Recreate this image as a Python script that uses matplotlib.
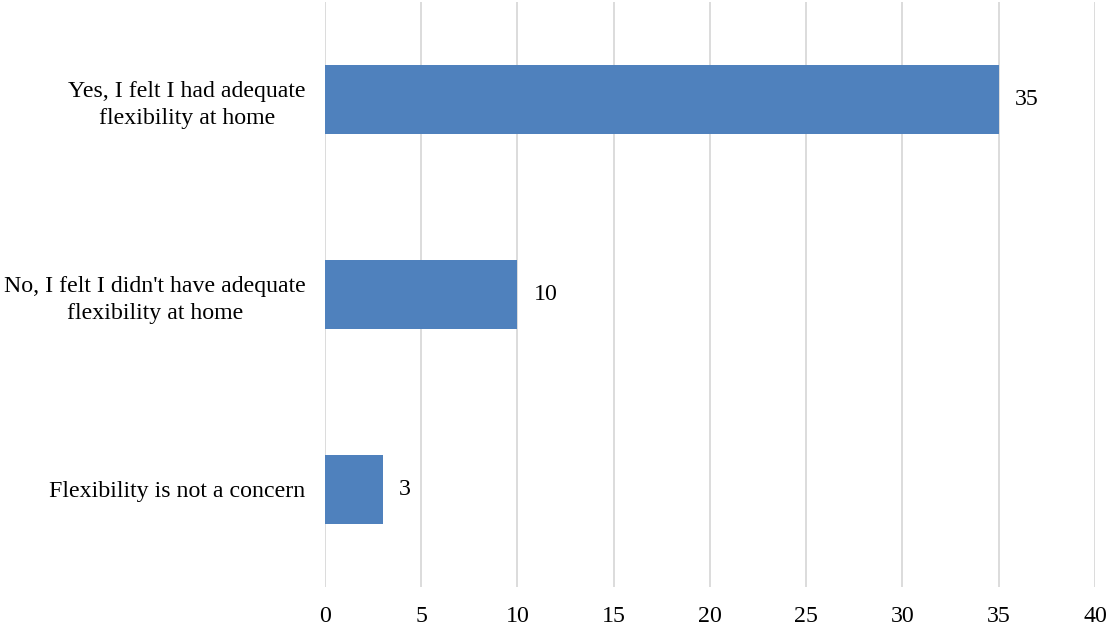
import matplotlib.pyplot as plt
import numpy as np

categories = ["Yes, I felt I had adequate\nflexibility at home",
              "No, I felt I didn't have adequate\nflexibility at home",
              "Flexibility is not a concern"]
counts = [35, 10, 3]
xticks = [0, 5, 10, 15, 20, 25, 30, 35, 40]

plt.rcParams['font.family'] = ['Liberation Serif', 'DejaVu Serif']

fig = plt.figure(figsize=(11.11, 6.28), dpi=100)
ax = fig.add_axes([0.2925, 0.0653, 0.6931, 0.9317])

y = np.arange(len(categories))
bars = ax.barh(y, counts, height=0.35, color='#4f81bd', zorder=3)

for b, v in zip(bars, counts):
    ax.text(b.get_width() + 0.85, b.get_y() + b.get_height() / 2, str(v),
            va='center', ha='left', fontsize=17.2, color='#000000')

ax.set_xlim(0, 40)
ax.set_ylim(len(categories) - 0.5, -0.5)
ax.set_xticks(xticks)
ax.set_yticks(y)
ax.set_yticklabels(categories, multialignment='center', linespacing=1.37)
ax.tick_params(axis='both', length=0, labelsize=17.2, colors='#000000')
ax.tick_params(axis='x', pad=14)
ax.tick_params(axis='y', pad=14)
ax.grid(axis='x', color='#d9d9d9', linewidth=1.3, zorder=0)

for s in ax.spines.values():
    s.set_visible(False)

fig.savefig('out.png', dpi=100)
